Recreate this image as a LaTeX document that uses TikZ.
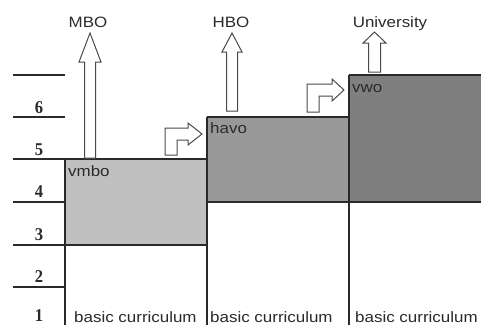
\documentclass[tikz,border=0pt]{standalone}
\usepackage{fontspec}
\setmainfont{Liberation Sans}
\newfontfamily\labelfont[FakeStretch=1.13]{Liberation Sans}
\newfontfamily\numfont[FakeStretch=0.92]{Liberation Serif}
\definecolor{inkgray}{HTML}{2A2A2A}
\definecolor{vmbofill}{HTML}{C0C0C0}
\definecolor{havofill}{HTML}{999999}
\definecolor{vwofill}{HTML}{7F7F7F}
\definecolor{arrowline}{HTML}{4A4A4A}
\begin{document}
\begin{tikzpicture}[x=1pt,y=-1pt,
  rule/.style={draw=inkgray,line width=1.3pt},
  block/.style={draw=arrowline,fill=white,line width=1pt,line join=miter},
  lbl/.style={font=\labelfont\fontsize{15}{15}\selectfont,text=inkgray,inner sep=0pt},
  trackname/.style={lbl,anchor=base west},
  yearnum/.style={font=\numfont\bfseries\fontsize{18}{18}\selectfont,text=inkgray,inner sep=0pt,anchor=base}]
\useasboundingbox (0,0) rectangle (481,325);

% stream blocks
\fill[vmbofill] (65,159) rectangle (207,245);
\fill[havofill] (207,117) rectangle (349,202);
\fill[vwofill] (349,75) rectangle (481,202);

% year scale on the left
\draw[rule] (13,75) -- (65,75);
\draw[rule] (13,117) -- (65,117);
\draw[rule] (13,159) -- (207,159);
\draw[rule] (13,202) -- (65,202);
\draw[rule] (13,245) -- (207,245);
\draw[rule] (13,287) -- (65,287);
\draw[rule] (207,117) -- (349,117);
\draw[rule] (349,75) -- (481,75);
\draw[rule] (207,202) -- (481,202);
% column borders
\draw[rule] (65,159) -- (65,325);
\draw[rule] (207,117) -- (207,325);
\draw[rule] (349,75) -- (349,325);

\node[yearnum] (y6) at (39,113) {6};
\node[yearnum] (y5) at (39,155) {5};
\node[yearnum] (y4) at (39,197) {4};
\node[yearnum] (y3) at (39,240) {3};
\node[yearnum] (y2) at (39,282) {2};
\node[yearnum] (y1) at (39,321) {1};

% stream names
\node[trackname] (vmbo) at (68,176) {vmbo};
\node[trackname] (havo) at (210,133) {havo};
\node[trackname] (vwo) at (352,92) {vwo};

\node[trackname] (bc1) at (74,322) {basic curriculum};
\node[trackname] (bc2) at (210,322) {basic curriculum};
\node[trackname] (bc3) at (355,322) {basic curriculum};

% outflow arrows
\draw[block] (84.5,158) -- (84.5,62) -- (79,62) -- (90,33) -- (101,62) -- (95.5,62) -- (95.5,158) -- cycle;
\draw[block] (226.5,111) -- (226.5,52) -- (222,52) -- (232,33) -- (242,52) -- (237.5,52) -- (237.5,111) -- cycle;
\draw[block] (368.5,72) -- (368.5,43) -- (363,43) -- (374.5,32) -- (386,43) -- (380.5,43) -- (380.5,72) -- cycle;

% transfer arrows
\draw[block] (165,155) -- (165,128) -- (188,128) -- (188,123) -- (202,134) -- (188,145) -- (188,140) -- (177,140) -- (177,155) -- cycle;
\draw[block] (307,112) -- (307,84) -- (332,84) -- (332,79) -- (344,90) -- (332,101) -- (332,96) -- (319,96) -- (319,112) -- cycle;

\node[lbl,anchor=base] (mbo) at (88,27) {MBO};
\node[lbl,anchor=base] (hbo) at (231,27) {HBO};
\node[lbl,anchor=base] (uni) at (390,27) {University};
\end{tikzpicture}
\end{document}
